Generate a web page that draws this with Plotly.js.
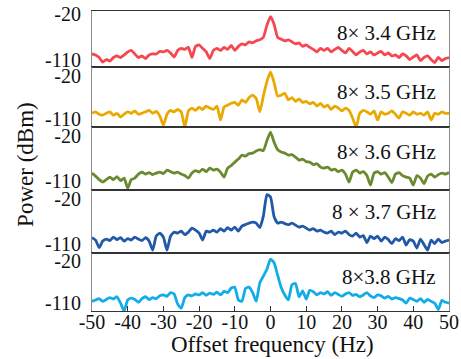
<!DOCTYPE html>
<html>
<head>
<meta charset="utf-8">
<script src="https://cdn.plot.ly/plotly-3.0.1.min.js"></script>
<style>html,body{margin:0;padding:0;background:#fff;}#chart{width:461px;height:359px;}</style>
</head>
<body>
<div id="chart"></div>
<script>
// Offset frequency (Hz)
const freq = [-50,-49,-48,-47,-46,-45,-44,-43,-42,-41,-40,-39,-38,-37,-36,-35,-34,-33,-32,-31,-30,-29,-28,-27,-26,-25,-24,-23,-22,-21,-20,-19,-18,-17,-16,-15,-14,-13,-12,-11,-10,-9,-8,-7,-6,-5,-4,-3,-2,-1,0,1,2,3,4,5,6,7,8,9,10,11,12,13,14,15,16,17,18,19,20,21,22,23,24,25,26,27,28,29,30,31,32,33,34,35,36,37,38,39,40,41,42,43,44,45,46,47,48,49,50];

// Power (dBm) for each carrier
const p34 = [-99,-101,-106,-115,-110,-113,-106,-103,-106,-101,-95,-92,-99,-106,-103,-108,-101,-99,-99,-94,-95,-92,-97,-105,-92,-88,-90,-86,-106,-84,-81,-88,-95,-108,-92,-88,-92,-86,-90,-82,-92,-84,-79,-81,-75,-77,-73,-71,-66,-42,-25,-40,-66,-70,-73,-71,-75,-79,-77,-84,-81,-86,-90,-95,-88,-92,-88,-95,-90,-86,-92,-97,-88,-94,-101,-95,-92,-99,-95,-101,-97,-94,-101,-97,-103,-101,-106,-99,-103,-110,-105,-101,-112,-106,-103,-110,-116,-106,-112,-108,-106];
const p35 = [-99,-96,-101,-103,-99,-96,-103,-99,-107,-101,-96,-99,-94,-101,-99,-96,-93,-99,-95,-105,-124,-101,-93,-96,-91,-96,-128,-94,-88,-93,-86,-91,-84,-88,-91,-84,-113,-86,-82,-78,-76,-82,-71,-76,-66,-61,-68,-96,-63,-32,-12,-34,-63,-61,-57,-71,-66,-74,-69,-76,-74,-79,-76,-84,-78,-86,-82,-91,-84,-88,-94,-88,-93,-109,-128,-99,-93,-96,-101,-94,-113,-96,-101,-99,-94,-101,-109,-96,-99,-103,-96,-101,-99,-103,-96,-113,-99,-101,-96,-99,-99];
const p36 = [-94,-100,-107,-112,-107,-102,-107,-101,-109,-104,-124,-107,-104,-96,-92,-96,-93,-97,-94,-92,-95,-88,-91,-94,-92,-96,-99,-104,-94,-89,-92,-86,-91,-84,-88,-86,-92,-102,-84,-79,-72,-66,-58,-60,-55,-54,-50,-47,-49,-29,-12,-32,-47,-52,-54,-58,-57,-62,-68,-66,-71,-72,-77,-75,-82,-84,-82,-88,-86,-91,-88,-96,-112,-92,-88,-94,-91,-99,-118,-94,-91,-96,-93,-102,-113,-96,-93,-99,-102,-104,-118,-99,-104,-115,-100,-96,-102,-97,-94,-96,-93];
const p37 = [-97,-102,-117,-104,-100,-103,-96,-101,-97,-104,-99,-102,-96,-100,-103,-97,-104,-122,-94,-88,-96,-122,-94,-86,-88,-84,-91,-86,-78,-82,-88,-102,-84,-86,-82,-86,-79,-84,-77,-82,-76,-84,-74,-71,-68,-66,-68,-77,-54,-11,-16,-55,-68,-66,-69,-71,-68,-72,-76,-74,-78,-82,-79,-84,-82,-86,-88,-84,-91,-86,-88,-84,-91,-94,-88,-96,-93,-107,-94,-99,-94,-104,-96,-101,-109,-99,-103,-96,-112,-101,-104,-118,-100,-111,-122,-102,-109,-100,-107,-104,-102];
const p38 = [-107,-104,-101,-107,-103,-99,-102,-97,-111,-128,-104,-100,-103,-109,-101,-97,-103,-99,-101,-95,-93,-96,-88,-91,-113,-122,-99,-93,-95,-91,-93,-88,-94,-89,-92,-87,-93,-85,-88,-78,-76,-104,-107,-79,-76,-88,-107,-67,-52,-37,-15,-23,-50,-77,-93,-104,-71,-68,-97,-84,-102,-83,-86,-93,-88,-91,-86,-94,-88,-92,-96,-91,-88,-94,-92,-97,-93,-88,-95,-99,-93,-95,-100,-96,-102,-99,-101,-104,-111,-100,-103,-107,-101,-109,-103,-107,-111,-125,-105,-109,-111];

const series = [p34, p35, p36, p37, p38];
const labels = ['8× 3.4 GHz', '8× 3.5 GHz', '8× 3.6 GHz', '8 × 3.7 GHz', '8×3.8 GHz'];
const colors = ['#f6464f', '#eaa900', '#6a8a2f', '#2258a8', '#12ace8'];

const xTickVals = [-50,-40,-30,-20,-10,0,10,20,30,40,50];
const xTickText = ['-50','-40','-30','-20','-10','0','10','20','30','40','50'];
const yTickVals = [-110, -20];
const yTickText = ['-110', '-20'];

const FONT = 'Liberation Serif';
const domains = [[0.813,1],[0.613,0.813],[0.403,0.613],[0.193,0.403],[0,0.193]];
const yRanges = [[-125,-14],[-128,-2],[-128,-2],[-128,-2],[-128,-2]];
const labelY = [0.927, 0.73, 0.53, 0.33, 0.113];

const traces = [];
const layout = {
  width: 461, height: 359,
  margin: {l: 92, r: 12, t: 11, b: 48},
  paper_bgcolor: '#fff', plot_bgcolor: '#fff',
  showlegend: false,
  font: {family: FONT, size: 19, color: '#111'},
  annotations: []
};

series.forEach((s, i) => {
  const n = i + 1;
  const xa = n === 1 ? 'x' : 'x' + n;
  const ya = n === 1 ? 'y' : 'y' + n;
  traces.push({
    x: freq, y: s, xaxis: xa, yaxis: ya,
    type: 'scatter', mode: 'lines',
    line: {color: colors[i], width: 2.8, shape: 'spline', smoothing: 0.5},
    hoverinfo: 'skip'
  });
  const last = n === 5;
  layout['xaxis' + (n === 1 ? '' : n)] = {
    domain: [0, 1], anchor: ya, range: [-50, 50],
    showgrid: false, zeroline: false,
    showline: true, mirror: true, linecolor: '#333', linewidth: 1,
    showticklabels: last,
    ticks: last ? 'inside' : '', ticklen: 5, tickcolor: '#333',
    tickvals: xTickVals, ticktext: xTickText,
    ticklabelstandoff: last ? -7 : 0,
    tickfont: {family: FONT, size: 20, color: '#111'}
  };
  layout['yaxis' + (n === 1 ? '' : n)] = {
    domain: domains[i], anchor: xa, range: yRanges[i],
    showgrid: false, zeroline: false,
    showline: true, mirror: true, linecolor: '#8a8a8a', linewidth: 1,
    ticks: '', tickvals: yTickVals, ticktext: yTickText,
    ticklabelstandoff: 6,
    tickfont: {family: FONT, size: 20, color: '#111'}
  };
  layout.annotations.push({
    xref: 'paper', yref: 'paper', x: 0.969, y: labelY[i],
    xanchor: 'right', yanchor: 'middle', showarrow: false,
    text: labels[i], font: {family: FONT, size: 21, color: '#111'}
  });
});

layout.annotations.push({
  xref: 'paper', yref: 'paper', x: 0.505, y: -0.11,
  xanchor: 'center', yanchor: 'middle', showarrow: false,
  text: 'Offset frequency (Hz)', font: {family: FONT, size: 23, color: '#111'}
});
layout.annotations.push({
  xref: 'paper', yref: 'paper', x: -0.188, y: 0.49,
  xanchor: 'center', yanchor: 'middle', showarrow: false, textangle: -90,
  text: 'Power (dBm)', font: {family: FONT, size: 23, color: '#111'}
});

Plotly.newPlot('chart', traces, layout, {staticPlot: true, displayModeBar: false});
</script>
</body>
</html>
